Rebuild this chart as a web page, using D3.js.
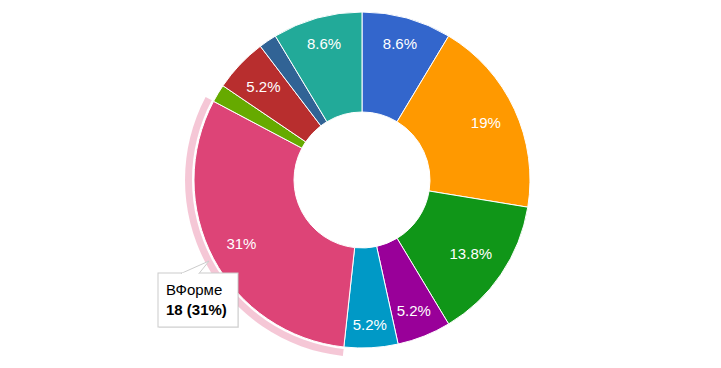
<!DOCTYPE html>
<html>
<head>
<meta charset="utf-8">
<script src="https://cdn.jsdelivr.net/npm/d3@7"></script>
<style>
  body { margin: 0; background: #fff; }
  svg { display: block; font-family: "Liberation Sans", Arial, sans-serif; }
</style>
</head>
<body>
<div id="chart"></div>
<script>
var categories = ["Категория 1", "Категория 2", "Категория 3", "Категория 4", "Категория 5",
                  "ВФорме", "Категория 7", "Категория 8", "Категория 9", "Категория 10"];
var values = [5, 11, 8, 3, 3, 18, 1, 3, 1, 5];
var colors = ["#3366cc", "#ff9900", "#109618", "#990099", "#0099c6",
              "#dd4477", "#66aa00", "#b82e2e", "#316395", "#22aa99"];
var hovered = 5;

var width = 721, height = 368;
var cx = 362, cy = 180;
var outerR = 168, innerR = 68;

var svg = d3.select("#chart").append("svg")
    .attr("width", width)
    .attr("height", height);

var g = svg.append("g")
    .attr("transform", "translate(" + cx + "," + cy + ")");

var total = d3.sum(values);
var pie = d3.pie().sort(null).value(d => d);
var arcs = pie(values);

var arc = d3.arc().innerRadius(innerR).outerRadius(outerR);

// hover ring behind the highlighted slice
var ring = d3.arc().innerRadius(outerR + 2).outerRadius(outerR + 9);
g.append("path")
    .attr("d", ring(arcs[hovered]))
    .attr("fill", colors[hovered])
    .attr("fill-opacity", 0.3);

g.selectAll("path.slice")
    .data(arcs)
    .join("path")
    .attr("class", "slice")
    .attr("d", arc)
    .attr("fill", (d, i) => colors[i])
    .attr("stroke", "#fff")
    .attr("stroke-width", 1);

function pctText(v) {
    return d3.format(".1~f")(v / total * 100) + "%";
}

// percentage labels, pushed out until the text box touches a fixed radius
arcs.forEach(function (d, i) {
    if (d.value / total < 0.03) return;
    var t = g.append("text")
        .attr("fill", "#fff")
        .style("font-size", "15px")
        .attr("text-anchor", "middle")
        .text(pctText(d.value));
    var hw = t.node().getComputedTextLength() / 2;
    var hh = 7;
    var a = (d.startAngle + d.endAngle) / 2;
    var ext = hw * Math.abs(Math.sin(a)) + hh * Math.abs(Math.cos(a));
    var r = 153 - ext;
    var x = Math.sin(a) * r, y = -Math.cos(a) * r;
    t.attr("x", x).attr("y", y + 5.5);
});

// tooltip
var tip = svg.append("g");
tip.append("rect")
    .attr("x", 159).attr("y", 274)
    .attr("width", 80).attr("height", 54)
    .attr("fill", "#000").attr("fill-opacity", 0.08);
tip.append("rect")
    .attr("x", 158).attr("y", 273)
    .attr("width", 80).attr("height", 54)
    .attr("fill", "#fff")
    .attr("stroke", "#cccccc");
tip.append("path")
    .attr("d", "M181,273.5 L209,261 L199,273.5")
    .attr("fill", "#fff")
    .attr("stroke", "#cccccc");
tip.append("line")
    .attr("x1", 182).attr("y1", 273.5)
    .attr("x2", 198).attr("y2", 273.5)
    .attr("stroke", "#fff").attr("stroke-width", 1.5);
tip.append("text")
    .attr("x", 166).attr("y", 295)
    .style("font-size", "15px")
    .attr("fill", "#000")
    .text(categories[hovered]);
tip.append("text")
    .attr("x", 166).attr("y", 315)
    .style("font-size", "15px")
    .style("font-weight", "bold")
    .attr("fill", "#000")
    .text(values[hovered] + " (" + pctText(values[hovered]) + ")");
</script>
</body>
</html>
